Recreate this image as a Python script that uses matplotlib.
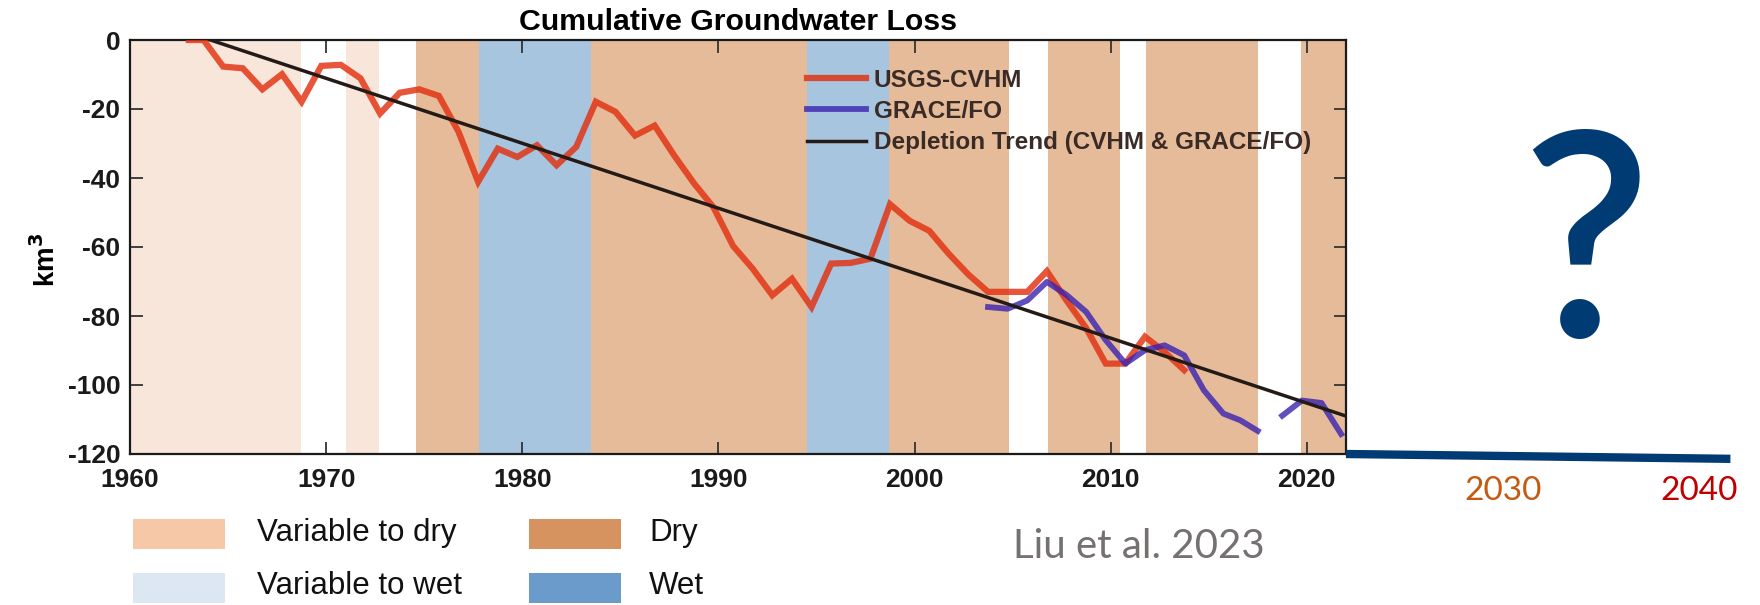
import numpy as np
import matplotlib
matplotlib.use('Agg')
import matplotlib.pyplot as plt
from matplotlib.patches import Rectangle

plt.rcParams['font.family'] = ['Liberation Sans', 'DejaVu Sans']
plt.rcParams['axes.unicode_minus'] = False

# climate periods behind the curves
period_edges = [1960, 1968.7, 1971.0, 1972.7, 1974.6, 1977.8, 1983.5, 1994.5,
                1998.7, 2004.8, 2006.8, 2010.5, 2011.8, 2017.5, 2019.7, 2022]
period_kind = ['var_dry', 'var_wet', 'var_dry', 'var_wet', 'dry', 'wet', 'dry', 'wet',
               'dry', 'var_wet', 'dry', 'var_wet', 'dry', 'var_wet', 'dry']

# USGS-CVHM cumulative loss (km3), water-year points
cvhm_years = [1963.0] + [y + 0.75 for y in range(1963, 2014)]
cvhm_loss = [0, 0, -7.7, -8.2, -14.3, -9.9, -17.9, -7.5, -7.2, -11.1, -21.3,
             -15.3, -14.3, -16.2, -26.6, -41.1, -31.5, -33.9, -30.5, -36.3, -31.0,
             -17.9, -20.8, -27.7, -24.8, -33.5, -41.5, -48.5, -59.7, -66.3, -74.0,
             -69.2, -77.4, -64.8, -64.6, -63.4, -47.6, -52.4, -55.3, -62.0, -68.0,
             -73.0, -73.0, -73.0, -67.0, -75.5, -83.5, -93.8, -93.8, -86.0, -90.4,
             -95.7]

# GRACE / GRACE-FO (gap between the two missions)
grace_years = [2003.75, 2004.75, 2005.75, 2006.75, 2007.75, 2008.75, 2009.75,
               2010.75, 2011.75, 2012.75, 2013.75, 2014.75, 2015.75, 2016.6,
               2017.5, np.nan, 2018.75, 2019.75, 2020.75, 2021.75]
grace_loss = [-77.4, -77.9, -75.5, -70.1, -73.9, -78.8, -87.0, -93.8, -89.9,
              -88.5, -91.4, -101.5, -108.3, -110.2, -113.3, np.nan, -108.9,
              -104.5, -105.2, -114.2]

# linear depletion trend
trend_years = [1964.1, 2022]
trend_loss = [0, -109]

# time axis carried on to 2040
future_years = [2022, 2041.6]
future_level = [-120, -121.4]
future_ticks = [2030, 2040]
future_colors = ['#C55A11', '#C00000']

span_colors = {'var_dry': '#F9E6DA', 'var_wet': '#FFFFFF',
               'dry': '#E6BB99', 'wet': '#A8C5E0'}
key_labels = ['Variable to dry', 'Dry', 'Variable to wet', 'Wet']
key_colors = ['#F7C8A8', '#D6935F', '#DCE7F3', '#6A9BCB']

W, H = 1760, 605
fig = plt.figure(figsize=(W / 100, H / 100), dpi=100)
ax = fig.add_axes([130 / W, 1 - 454 / H, 1216 / W, 414 / H])

for x0, x1, kind in zip(period_edges[:-1], period_edges[1:], period_kind):
    ax.axvspan(x0, x1, color=span_colors[kind], lw=0, zorder=0)

ax.plot(cvhm_years, cvhm_loss, color='#E2300F', lw=4.5, alpha=0.82,
        solid_joinstyle='miter', label='USGS-CVHM', zorder=3)
ax.plot(grace_years, grace_loss, color='#3A22B0', lw=4.2, alpha=0.8,
        label='GRACE/FO', zorder=4)
ax.plot(trend_years, trend_loss, color='#241a16', lw=2.5,
        label='Depletion Trend (CVHM & GRACE/FO)', zorder=5)

ax.set_xlim(1960, 2022)
ax.set_ylim(-120, 0)
ax.set_xticks(range(1960, 2021, 10))
ax.set_yticks(range(-120, 1, 20))
ax.tick_params(direction='in', length=9, width=1.3, top=True, right=True,
               labelsize=19, colors='#333333', labelcolor='#1a1a1a')
ax.tick_params(axis='x', pad=10)
ax.tick_params(axis='y', pad=7)
plt.setp(ax.get_xticklabels() + ax.get_yticklabels(), fontweight='bold')
for sp in ax.spines.values():
    sp.set_linewidth(1.6)
    sp.set_color('#1a1a1a')

ax.set_title('Cumulative Groundwater Loss', fontsize=21.8, fontweight='bold', pad=7)
ax.set_ylabel('km$^\\mathbf{3}$', fontsize=20, fontweight='bold')
ax.yaxis.set_label_coords(-0.057, 0.47)

leg = ax.legend(loc='upper left', bbox_to_anchor=(0.557, 0.93), frameon=False,
                prop={'size': 17.5, 'weight': 'bold'}, handlelength=2.4,
                handletextpad=0.33, labelspacing=0.33, borderpad=0,
                borderaxespad=0, labelcolor='#3a2b26')

# axis extension into the future
ax.plot(future_years, future_level, color='#003B73', lw=6, clip_on=False,
        solid_capstyle='butt', zorder=6)
for yr, col in zip(future_ticks, future_colors):
    ax.text(yr, -0.111, str(yr), transform=ax.get_xaxis_transform(),
            ha='center', va='baseline', fontsize=24, color=col, family='Lato')

# period key below the chart
for i, (lab, col) in enumerate(zip(key_labels, key_colors)):
    row, c = divmod(i, 2)
    px = [133, 529][c]
    tx = [257, 649][c]
    yc = 533.5 + 54 * row
    fig.add_artist(Rectangle((px / W, 1 - (yc + 15) / H), 92 / W, 30 / H,
                             transform=fig.transFigure, color=col, lw=0))
    fig.text(tx / W, 1 - (yc + 7) / H, lab, fontsize=22.5, color='#111111',
             va='baseline', ha='left')

fig.text(1139 / W, 1 - 558 / H, 'Liu et al. 2023', fontsize=29, color='#767171',
         family='Lato', ha='center', va='baseline')
fig.text(1586 / W, 1 - 337 / H, '?', fontsize=205, color='#003B73',
         family='Lato', fontweight='semibold', ha='center', va='baseline')

fig.savefig('out.png', dpi=100)
